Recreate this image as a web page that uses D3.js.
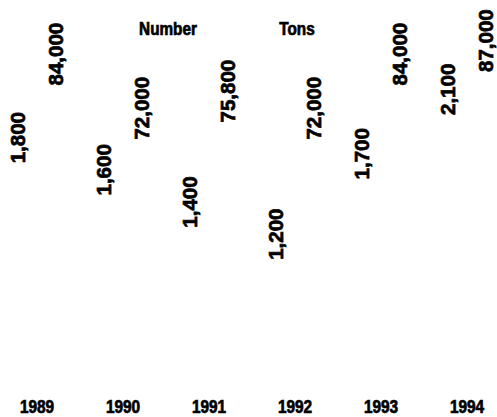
<!DOCTYPE html>
<html>
<head>
<meta charset="utf-8">
<script src="https://cdn.jsdelivr.net/npm/d3@7"></script>
<style>
  body { margin: 0; background: #fff; }
  text {
    fill: #000;
    font-family: "Liberation Sans", Arial, sans-serif;
    font-weight: bold;
    stroke: #000;
    stroke-width: 0.7px;
  }
</style>
</head>
<body>
<svg id="chart" width="497" height="417"></svg>
<script>
// Grouped bars with hidden bars: only the value labels are visible.
var years = ['1989', '1990', '1991', '1992', '1993', '1994'];
var series = ['Number', 'Tons'];
var numberValues = [1800, 1600, 1400, 1200, 1700, 2100];
var tonsValues = [84000, 72000, 75800, 72000, 84000, 87000];

var svg = d3.select('#chart');

var x0 = d3.scaleBand()
  .domain(years)
  .range([-6, 510]);

var x1 = d3.scaleBand()
  .domain(series)
  .range([5, 81]);

// each series has its own value scale
var yNum = d3.scaleLinear().domain([0, 2100]).range([457, 119]);
var yTons = d3.scaleLinear().domain([0, 87000]).range([468, 76]);
var yScales = { 'Number': yNum, 'Tons': yTons };

var rows = years.map(function(yr, i) {
  return { year: yr, Number: numberValues[i], Tons: tonsValues[i] };
});

var fmt = d3.format(',');

var groups = svg.append('g')
  .selectAll('g')
  .data(rows)
  .enter().append('g')
    .attr('transform', function(d) { return 'translate(' + x0(d.year) + ',0)'; });

var cells = groups.selectAll('g')
  .data(function(d) { return series.map(function(k) { return { key: k, value: d[k] }; }); })
  .enter().append('g');

// bars are white, same as the background
cells.append('rect')
  .attr('x', function(d) { return x1(d.key) + 4; })
  .attr('width', x1.bandwidth() - 8)
  .attr('y', function(d) { return yScales[d.key](d.value); })
  .attr('height', function(d) { return 417 - yScales[d.key](d.value); })
  .attr('fill', '#fff');

cells.append('text')
  .attr('font-size', 20.5)
  .attr('text-anchor', 'start')
  .attr('dy', '0.36em')
  .attr('transform', function(d) {
    var cx = x1(d.key) + x1.bandwidth() / 2;
    return 'translate(' + cx + ',' + (yScales[d.key](d.value) - 4) + ') rotate(-90)';
  })
  .text(function(d) { return fmt(d.value); });

// year axis
var axis = svg.append('g')
  .attr('transform', 'translate(0,413)')
  .call(d3.axisBottom(x0).tickSize(0).tickPadding(0));
axis.select('.domain').remove();
axis.attr('font-family', null).attr('font-size', null);
axis.selectAll('text')
  .attr('font-size', 17.5)
  .attr('dy', 0)
  .attr('y', 0)
  .attr('transform', 'scale(0.88,1)');

// legend titles
svg.append('g')
  .selectAll('text')
  .data([{ name: 'Number', cx: 168 }, { name: 'Tons', cx: 297 }])
  .enter().append('text')
    .attr('font-size', 18)
    .attr('text-anchor', 'middle')
    .attr('transform', function(d) { return 'translate(' + d.cx + ',35) scale(0.85,1)'; })
    .text(function(d) { return d.name; });
</script>
</body>
</html>
